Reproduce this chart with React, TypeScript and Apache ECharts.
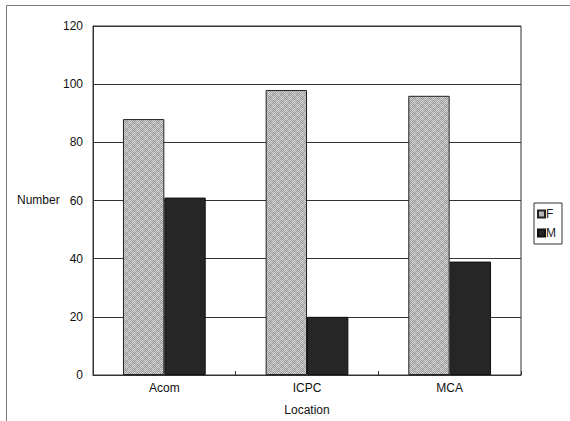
import React, { useEffect, useRef } from "react";
import * as echarts from "echarts";

const categories = ["Acom", "ICPC", "MCA"];
const femaleValues = [88, 98, 96];
const maleValues = [61, 20, 39];
const yTicks = { min: 0, max: 120, interval: 20 };

function makeCheckerPattern(): HTMLCanvasElement {
  const c = document.createElement("canvas");
  c.width = 8;
  c.height = 8;
  const ctx = c.getContext("2d")!;
  for (let y = 0; y < 8; y++) {
    for (let x = 0; x < 8; x++) {
      const light = (x + y) % 2 === 0;
      const block = (Math.floor(x / 4) + Math.floor(y / 4)) % 2 === 0;
      const base = light ? 205 : 158;
      const v = base + (block ? 8 : -6);
      ctx.fillStyle = `rgb(${v},${v},${v})`;
      ctx.fillRect(x, y, 1, 1);
    }
  }
  return c;
}

export default function App() {
  const ref = useRef<HTMLDivElement>(null);

  useEffect(() => {
    if (!ref.current) return;
    const chart = echarts.init(ref.current, undefined, { renderer: "svg" });
    const font = "'Liberation Sans', Arial, sans-serif";
    const pattern = makeCheckerPattern();
    chart.setOption({
      animation: false,
      backgroundColor: "#ffffff",
      textStyle: { fontFamily: font },
      grid: {
        left: 93,
        top: 26,
        width: 428,
        height: 350,
        show: true,
        borderColor: "#333333",
        borderWidth: 1,
        containLabel: false,
      },
      legend: {
        orient: "vertical",
        left: 534,
        top: 203,
        itemWidth: 7,
        itemHeight: 7,
        itemGap: 7,
        padding: [5, 6, 5, 3],
        borderColor: "#333333",
        borderWidth: 1,
        textStyle: { fontSize: 12, color: "#222", padding: [0, 0, 0, -4] },
        data: [
          { name: "F", icon: "rect" },
          { name: "M", icon: "rect" },
        ],
      },
      xAxis: {
        type: "category",
        data: categories,
        axisLine: { lineStyle: { color: "#333333", width: 1 } },
        axisTick: { show: true, inside: true, length: 4, lineStyle: { color: "#333" } },
        axisLabel: { fontSize: 12, color: "#111", margin: 7, fontFamily: font },
        name: "Location",
        nameLocation: "middle",
        nameGap: 29,
        nameTextStyle: { fontSize: 12, color: "#111", fontFamily: font },
      },
      yAxis: {
        type: "value",
        min: yTicks.min,
        max: yTicks.max,
        interval: yTicks.interval,
        axisLine: { show: true, lineStyle: { color: "#333333" } },
        axisTick: { show: false },
        axisLabel: { fontSize: 12, color: "#111", margin: 10, fontFamily: font },
        splitLine: { show: true, lineStyle: { color: "#333333", width: 1 } },
      },
      graphic: [
        {
          type: "line",
          shape: { x1: 6.5, y1: 5.5, x2: 570, y2: 5.5 },
          style: { stroke: "#7a7a7a", lineWidth: 1 },
        },
        {
          type: "line",
          shape: { x1: 6.5, y1: 5.5, x2: 6.5, y2: 421 },
          style: { stroke: "#7a7a7a", lineWidth: 1 },
        },
        {
          type: "text",
          left: 17,
          top: 194,
          style: { text: "Number", fontSize: 12, fill: "#111", fontFamily: font },
        },
      ],
      series: [
        {
          name: "F",
          type: "bar",
          data: femaleValues,
          barGap: "0%",
          barCategoryGap: "42%",
          itemStyle: {
            color: { image: pattern, repeat: "repeat" },
            borderColor: "#222",
            borderWidth: 1,
          },
        },
        {
          name: "M",
          type: "bar",
          data: maleValues,
          itemStyle: { color: "#262626", borderColor: "#111", borderWidth: 1 },
        },
      ],
    });
    return () => chart.dispose();
  }, []);

  return (
    <div
      ref={ref}
      style={{ position: "fixed", left: 0, top: 0, width: 570, height: 421 }}
    />
  );
}
